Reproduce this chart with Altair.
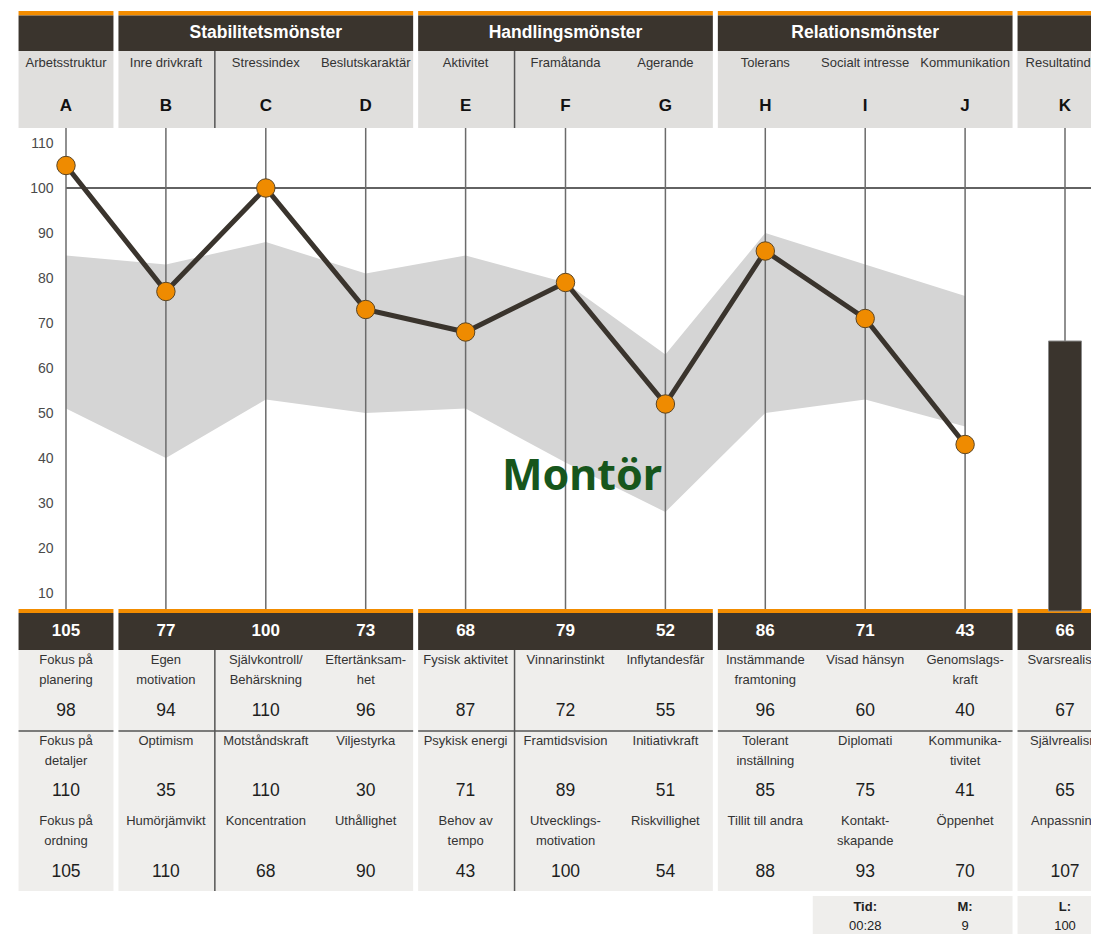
import altair as alt
import pandas as pd

# ---------------- data ----------------
letters = list("ABCDEFGHIJK")
subtitles = ["Arbetsstruktur", "Inre drivkraft", "Stressindex", "Beslutskaraktär",
             "Aktivitet", "Framåtanda", "Agerande", "Tolerans", "Socialt intresse",
             "Kommunikation", "Resultatindex"]
group_titles = ["", "Stabilitetsmönster", "Handlingsmönster", "Relationsmönster", ""]
group_first = [0, 1, 4, 7, 10]
group_last = [0, 3, 6, 9, 10]

profile = [105, 77, 100, 73, 68, 79, 52, 86, 71, 43]
band_upper = [85, 83, 88, 81, 85, 79, 63, 90, 83, 76]
band_lower = [51, 40, 53, 50, 51, 39, 28, 50, 53, 47]
result_index = 66
strip_values = profile + [result_index]

row1_labels = ["Fokus på\nplanering", "Egen\nmotivation", "Självkontroll/\nBehärskning",
               "Eftertänksam-\nhet", "Fysisk aktivitet", "Vinnarinstinkt", "Inflytandesfär",
               "Instämmande\nframtoning", "Visad hänsyn", "Genomslags-\nkraft", "Svarsrealism"]
row1_values = [98, 94, 110, 96, 87, 72, 55, 96, 60, 40, 67]
row2_labels = ["Fokus på\ndetaljer", "Optimism", "Motståndskraft", "Viljestyrka",
               "Psykisk energi", "Framtidsvision", "Initiativkraft", "Tolerant\ninställning",
               "Diplomati", "Kommunika-\ntivitet", "Självrealism"]
row2_values = [110, 35, 110, 30, 71, 89, 51, 85, 75, 41, 65]
row3_labels = ["Fokus på\nordning", "Humörjämvikt", "Koncentration", "Uthållighet",
               "Behov av\ntempo", "Utvecklings-\nmotivation", "Riskvillighet", "Tillit till andra",
               "Kontakt-\nskapande", "Öppenhet", "Anpassning"]
row3_values = [105, 110, 68, 90, 43, 100, 54, 88, 93, 70, 107]

footer_cols = [8, 9, 10]
footer_labels = ["Tid:", "M:", "L:"]
footer_values = ["00:28", "9", "100"]

profile_name = "Montör"
y_ticks = [10, 20, 30, 40, 50, 60, 70, 80, 90, 100, 110]

# ---------------- layout ----------------
W, H = 1083, 926
COL_PX = 99.9          # pixels per column
COL0 = 66              # page x of column A
def V(py):             # page y pixel -> value units
    return (638 - py) / 4.5

XDOM = [(8 - COL0) / COL_PX, (8 + W - COL0) / COL_PX]
YDOM = [V(8 + H), V(8)]
GAP = 2.5 / COL_PX

ORANGE = "#f28c00"
DARK = "#3a342d"
HEAD_GRAY = "#e0dfdd"
TABLE_GRAY = "#efeeec"
FONT = "Liberation Sans"

xscale = alt.Scale(domain=XDOM, nice=False, zero=False, padding=0)
yscale = alt.Scale(domain=YDOM, nice=False, zero=False, padding=0)
yaxis = alt.Axis(values=y_ticks, offset=-47, domain=False, ticks=False, grid=False,
                 labelPadding=2, labelFontSize=14, labelColor="#4a4a4a", labelFont=FONT,
                 title=None)

def X(f):
    return alt.X(f, type="quantitative", scale=xscale, axis=None)

def Y(f):
    return alt.Y(f, type="quantitative", scale=yscale, axis=yaxis)

# decoration rectangles
rects = []
for s, e in zip(group_first, group_last):
    x0, x1 = s - 0.5 + GAP, e + 0.5 - GAP
    for (t, b, c) in [(11, 15.5, ORANGE), (15.5, 51, DARK), (51, 128, HEAD_GRAY),
                      (609, 613, ORANGE), (613, 650, DARK), (650, 891, TABLE_GRAY)]:
        rects.append(dict(x=x0, x2=x1, y=V(t), y2=V(b), c=c))
rects.append(dict(x=7.5 + GAP - 0.05, x2=9.5 - GAP, y=V(896), y2=V(940), c=TABLE_GRAY))
rects.append(dict(x=9.5 + GAP, x2=10.5, y=V(896), y2=V(940), c=TABLE_GRAY))
rect_df = pd.DataFrame(rects)

rect_layer = alt.Chart(rect_df).mark_rect(clip=True).encode(
    x=X("x"), x2="x2", y=Y("y"), y2="y2", color=alt.Color("c:N", scale=None))

# band, profile, bar
n = len(profile)
prof_df = pd.DataFrame(dict(i=list(range(n)), v=profile, up=band_upper, lo=band_lower))
band_layer = alt.Chart(prof_df).mark_area(color="#d5d5d5", opacity=1).encode(
    x=X("i"), y=Y("up"), y2="lo")
line_layer = alt.Chart(prof_df).mark_line(color=DARK, strokeWidth=5).encode(
    x=X("i"), y=Y("v"))
point_layer = alt.Chart(prof_df).mark_point(filled=True, shape="circle", size=340,
                                            fill="#ef8b00", stroke="#5b4524",
                                            strokeWidth=1, opacity=1).encode(
    x=X("i"), y=Y("v"))
bar_df = pd.DataFrame(dict(i=[10], v=[result_index], base=[V(611)]))
bar_layer = alt.Chart(bar_df).mark_bar(size=33, color=DARK, stroke="#8a8a8a",
                                       strokeWidth=1).encode(
    x=X("i"), y=Y("v"), y2="base")

# rules
col_rules = pd.DataFrame(dict(x=list(range(11)), x2=list(range(11)),
                              y=[V(128)] * 11, y2=[V(609)] * 11))
col_layer = alt.Chart(col_rules).mark_rule(color="#6b6b6b", strokeWidth=1.5).encode(
    x=X("x"), x2="x2", y=Y("y"), y2="y2")

ref_df = pd.DataFrame(dict(x=[0], x2=[XDOM[1]], y=[100], y2=[100]))
ref_layer = alt.Chart(ref_df).mark_rule(color="#2e2e2e", strokeWidth=1.3).encode(
    x=X("x"), x2="x2", y=Y("y"), y2="y2")

div = []
for xd in [1.5, 4.5]:
    div.append(dict(x=xd - 0.01, x2=xd - 0.01, y=V(51), y2=V(128)))
    div.append(dict(x=xd - 0.01, x2=xd - 0.01, y=V(650), y2=V(891)))
for s, e in zip(group_first, group_last):
    div.append(dict(x=s - 0.5 + GAP, x2=e + 0.5 - GAP, y=V(731), y2=V(731)))
div_df = pd.DataFrame(div)
div_layer = alt.Chart(div_df).mark_rule(color="#555555", strokeWidth=1.5, clip=True).encode(
    x=X("x"), x2="x2", y=Y("y"), y2="y2")

# texts
cols = list(range(11))
def text_layer(df, **kw):
    return alt.Chart(df).mark_text(clip=True, font=FONT, **kw).encode(
        x=X("x"), y=Y("y"), text="t:N")

gt_df = pd.DataFrame(dict(x=[(s + e) / 2 for s, e in zip(group_first, group_last)],
                          y=[V(33)] * 5, t=group_titles))
gt_df = gt_df[gt_df.t != ""]
sub_df = pd.DataFrame(dict(x=cols, y=[V(63)] * 11, t=subtitles))
let_df = pd.DataFrame(dict(x=cols, y=[V(106)] * 11, t=letters))
strip_df = pd.DataFrame(dict(x=cols, y=[V(631)] * 11, t=[str(v) for v in strip_values]))

lab_rows, val_rows = [], []
for labs, vals, ly, vy in [(row1_labels, row1_values, 654, 711),
                           (row2_labels, row2_values, 735, 791),
                           (row3_labels, row3_values, 815, 872)]:
    for i in cols:
        lab_rows.append(dict(x=i, y=V(ly), t=labs[i]))
        val_rows.append(dict(x=i, y=V(vy), t=str(vals[i])))
lab_df = pd.DataFrame(lab_rows)
val_df = pd.DataFrame(val_rows)

fl_df = pd.DataFrame(dict(x=footer_cols, y=[V(907)] * 3, t=footer_labels))
fv_df = pd.DataFrame(dict(x=footer_cols, y=[V(926)] * 3, t=footer_values))

name_df = pd.DataFrame(dict(x=[(582 - COL0) / COL_PX], y=[V(477)], t=[profile_name]))

texts = [
    text_layer(gt_df, fontSize=17.5, fontWeight="bold", color="white", baseline="middle"),
    text_layer(sub_df, fontSize=13, color="#333333", baseline="middle"),
    text_layer(let_df, fontSize=17, fontWeight="bold", color="#111111", baseline="middle"),
    text_layer(strip_df, fontSize=17, fontWeight="bold", color="white", baseline="middle"),
    text_layer(lab_df, fontSize=13, color="#333333", baseline="top", lineBreak="\n",
               lineHeight=20),
    text_layer(val_df, fontSize=17.5, color="#1e1e1e", baseline="middle"),
    text_layer(fl_df, fontSize=13, fontWeight="bold", color="#222222", baseline="middle"),
    text_layer(fv_df, fontSize=13, color="#222222", baseline="middle"),
]
name_layer = alt.Chart(name_df).mark_text(font="Noto Sans", fontSize=43, fontWeight="bold",
                                          color="#17561c", baseline="middle").encode(
    x=X("x"), y=Y("y"), text="t:N")

chart = alt.layer(
    rect_layer, band_layer, ref_layer, col_layer, div_layer, bar_layer,
    line_layer, point_layer, name_layer, *texts
).properties(
    width=W, height=H, autosize=alt.AutoSizeParams(type="none"), padding=0
).configure_view(stroke=None).configure_scale(continuousPadding=0)

chart.save("out.html", embed_options={"renderer": "svg", "actions": False})
